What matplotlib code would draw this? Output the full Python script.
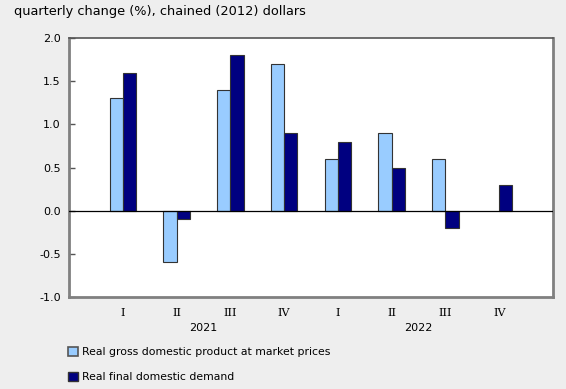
import matplotlib
matplotlib.use('Agg')
import matplotlib.pyplot as plt
import numpy as np
from matplotlib.patches import Patch

# data
quarters = ['I', 'II', 'III', 'IV', 'I', 'II', 'III', 'IV']
years = ['2021', '2022']
gdp = [1.3, -0.6, 1.4, 1.7, 0.6, 0.9, 0.6, np.nan]
final_demand = [1.6, -0.1, 1.8, 0.9, 0.8, 0.5, -0.2, 0.3]
y_ticks = [-1.0, -0.5, 0.0, 0.5, 1.0, 1.5, 2.0]

GDP_COLOR = '#99CCFF'
FDD_COLOR = '#000080'
BG = '#EEEEEE'

plt.rcParams['font.family'] = ['DejaVu Sans']

fig = plt.figure(figsize=(5.66, 3.89), dpi=100, facecolor=BG)
ax = fig.add_axes([69 / 566, 1 - 297 / 389, 484 / 566, 259 / 389])
ax.set_facecolor('white')

x = np.arange(len(quarters))
w = 0.245
ax.bar(x - w / 2, gdp, w, color=GDP_COLOR, edgecolor='#333333', linewidth=0.8, zorder=3)
ax.bar(x + w / 2, final_demand, w, color=FDD_COLOR, edgecolor='#333333', linewidth=0.8, zorder=3)
ax.axhline(0, color='black', linewidth=0.9, zorder=4)

ax.set_xlim(-1, len(quarters))
ax.set_ylim(-1.0, 2.0)
ax.set_yticks(y_ticks)
ax.set_yticklabels([f'{v:.1f}' for v in y_ticks], fontsize=8)
ax.tick_params(axis='y', direction='in', length=4, width=1, color='#555555', pad=6)
ax.set_xticks(x)
ax.set_xticklabels(quarters, fontsize=8, family='DejaVu Serif')
ax.tick_params(axis='x', length=0, pad=8)

for side in ['left', 'right', 'top', 'bottom']:
    ax.spines[side].set_color('#808080')
    ax.spines[side].set_linewidth(2)
ax.spines['top'].set_linewidth(1.2)
ax.spines['top'].set_color('#555555')

# year labels under each group of four quarters
for i, yr in enumerate(years):
    ax.text(i * 4 + 1.5, -0.12, yr, transform=ax.get_xaxis_transform(),
            ha='center', va='center', fontsize=8)

fig.text(14 / 566, 1 - 12 / 389, 'quarterly change (%), chained (2012) dollars',
         ha='left', va='center', fontsize=9.3)

handles = [Patch(facecolor=GDP_COLOR, edgecolor='#555555', linewidth=1.2),
           Patch(facecolor=FDD_COLOR, edgecolor='#333333', linewidth=1)]
labels = ['Real gross domestic product at market prices', 'Real final domestic demand']
fig.legend(handles, labels, loc='upper left', bbox_to_anchor=(58 / 566, 1 - 337 / 389),
           frameon=False, fontsize=7.8, handlelength=0.9, handleheight=0.9,
           handletextpad=0.4, labelspacing=1.4)

fig.savefig('out.png', dpi=100, facecolor=BG)
